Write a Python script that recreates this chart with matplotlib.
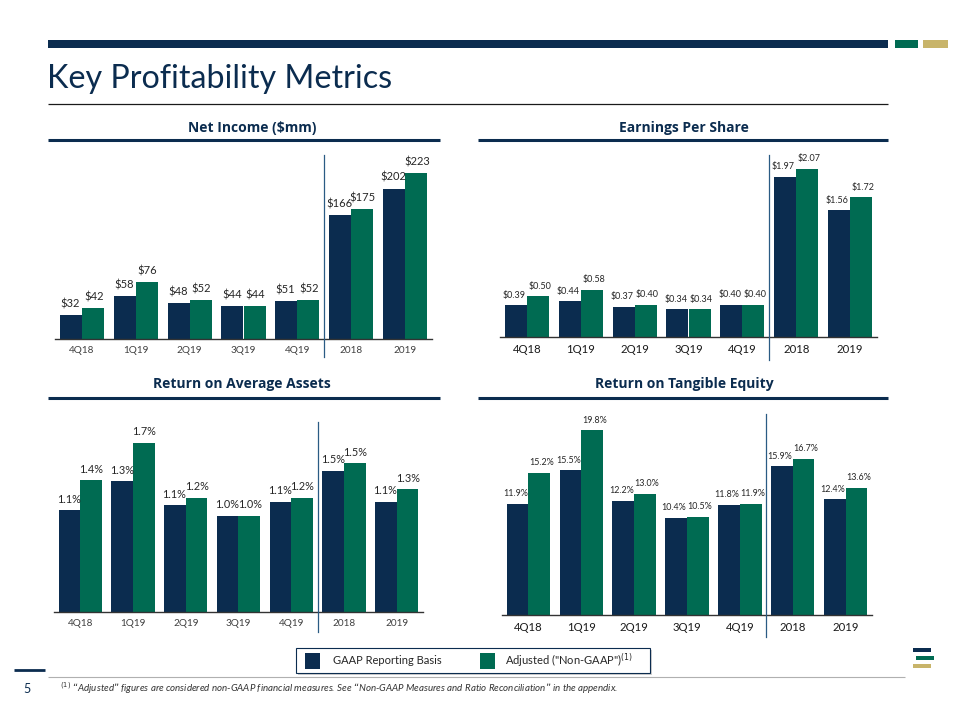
import matplotlib
matplotlib.use("Agg")
import matplotlib.pyplot as plt
from matplotlib.lines import Line2D
from matplotlib.patches import Rectangle
import numpy as np

# ---------------- data ----------------
categories = ["4Q18", "1Q19", "2Q19", "3Q19", "4Q19", "2018", "2019"]

ni_gaap = [32, 58, 48, 44, 51, 166, 202]
ni_adj = [42, 76, 52, 44, 52, 175, 223]

eps_gaap = [0.39, 0.44, 0.37, 0.34, 0.40, 1.97, 1.56]
eps_adj = [0.50, 0.58, 0.40, 0.34, 0.40, 2.07, 1.72]

# bar heights as drawn (%), labels as printed
roaa_gaap = [1.06, 1.36, 1.11, 1.00, 1.15, 1.47, 1.15]
roaa_adj = [1.37, 1.76, 1.19, 1.00, 1.19, 1.55, 1.28]
roaa_gaap_lbl = ["1.1%", "1.3%", "1.1%", "1.0%", "1.1%", "1.5%", "1.1%"]
roaa_adj_lbl = ["1.4%", "1.7%", "1.2%", "1.0%", "1.2%", "1.5%", "1.3%"]

rote_gaap = [11.9, 15.5, 12.2, 10.4, 11.8, 15.9, 12.4]
rote_adj = [15.2, 19.8, 13.0, 10.5, 11.9, 16.7, 13.6]

NAVY = "#0b2c4f"
GREEN = "#006b52"
GOLD = "#c8b46a"
TXT = "#262626"
LATO = ["Lato", "DejaVu Sans"]
OPEN = ["Open Sans", "DejaVu Sans"]

W, H = 960, 720
fig = plt.figure(figsize=(9.6, 7.2), dpi=100)
plt.rcParams["font.family"] = OPEN


def fx(x):
    return x / W


def fy(y):
    return 1 - y / H


def hline(x0, x1, y, color, lw):
    fig.add_artist(Line2D([fx(x0), fx(x1)], [fy(y), fy(y)], color=color, lw=lw,
                          transform=fig.transFigure, solid_capstyle="butt"))


def rect(x0, y0, x1, y1, color, **kw):
    fig.add_artist(Rectangle((fx(x0), fy(y1)), fx(x1) - fx(x0), fy(y0) - fy(y1),
                             transform=fig.transFigure, facecolor=color,
                             edgecolor="none", **kw))


# ---------------- header ----------------
rect(48, 40, 888, 48, NAVY)
rect(895, 40, 918, 48, GREEN)
rect(923, 40, 948, 48, GOLD)
fig.text(fx(47), fy(88), "Key Profitability Metrics", fontsize=23.2, color=NAVY,
         family=LATO, va="baseline", ha="left")
hline(48, 888, 103.5, "#1a1a1a", 0.9)

# panel titles
titles = [("Net Income ($mm)", 252, 128, 48, 440, 140),
          ("Earnings Per Share", 684, 128, 478, 888, 140),
          ("Return on Average Assets", 242, 384, 48, 440, 398),
          ("Return on Tangible Equity", 684, 384, 478, 888, 398)]
for t, cx, cy, x0, x1, ly in titles:
    fig.text(fx(cx), fy(cy), t, fontsize=10, fontweight="bold", color=NAVY,
             ha="center", va="center")
    hline(x0, x1, ly, NAVY, 2.2)


# ---------------- charts ----------------
def panel(left, right, base, top, ymax, g, a, glbl, albl, lbl_fs, tick_fs,
          tick_color, sep_bottom, sep_top, fam, nudge=0.0):
    ax = fig.add_axes([fx(left), fy(base), fx(right) - fx(left), fy(top) - fy(base)])
    x = np.arange(len(categories))
    bw = 0.41
    ax.bar(x - bw / 2, g, bw, color=NAVY, zorder=2)
    ax.bar(x + bw / 2, a, bw, color=GREEN, zorder=2)
    ax.set_xlim(-0.5, 6.5)
    ax.set_ylim(0, ymax)
    for i in range(len(categories)):
        ax.annotate(glbl[i], (x[i] - bw / 2, g[i]), xytext=(-nudge, 4),
                    textcoords="offset points", ha="center", va="bottom",
                    fontsize=lbl_fs, color=TXT, family=fam)
        ax.annotate(albl[i], (x[i] + bw / 2, a[i]), xytext=(nudge, 4),
                    textcoords="offset points", ha="center", va="bottom",
                    fontsize=lbl_fs, color=TXT, family=fam)
    for s in ["top", "right", "left"]:
        ax.spines[s].set_visible(False)
    ax.spines["bottom"].set_color("#333333")
    ax.spines["bottom"].set_linewidth(1.0)
    ax.set_yticks([])
    ax.set_xticks(x)
    ax.set_xticklabels(categories, fontsize=tick_fs, color=tick_color, family=fam)
    ax.tick_params(axis="x", length=0, pad=5)
    ax.patch.set_alpha(0)
    hpx = base - top
    ax.plot([4.5, 4.5], [(base - sep_bottom) / hpx, (base - sep_top) / hpx],
            transform=ax.get_xaxis_transform(), color="#2a5b84", lw=0.9,
            clip_on=False, zorder=3)
    return ax


panel(55, 432, 339, 155, (339 - 155) / 0.745, ni_gaap, ni_adj,
      [f"${v}" for v in ni_gaap], [f"${v}" for v in ni_adj],
      8.0, 7.2, "#404040", 357, 155, LATO, nudge=0.5)

panel(500, 877, 337, 155, (337 - 155) / 81.2, eps_gaap, eps_adj,
      [f"${v:.2f}" for v in eps_gaap], [f"${v:.2f}" for v in eps_adj],
      6.5, 8.2, "#1a1a1a", 360, 155, LATO, nudge=1.2)

panel(54, 423, 612, 422, (612 - 422) / 96.0, roaa_gaap, roaa_adj,
      roaa_gaap_lbl, roaa_adj_lbl, 7.8, 7.2, "#404040", 632, 422, LATO, nudge=0.3)

panel(502, 872, 615, 414, (615 - 414) / 9.34, rote_gaap, rote_adj,
      [f"{v:.1f}%" for v in rote_gaap], [f"{v:.1f}%" for v in rote_adj],
      6.4, 8.2, "#1a1a1a", 637, 414, LATO, nudge=1.5)

# ---------------- legend ----------------
rect(298, 650, 652, 675, "#d0d0d0")  # shadow
fig.add_artist(Rectangle((fx(296), fy(673)), fx(650) - fx(296), fy(648) - fy(673),
                         transform=fig.transFigure, facecolor="white",
                         edgecolor=NAVY, lw=0.8))
rect(305, 653, 320, 669, NAVY)
fig.text(fx(333), fy(661), "GAAP Reporting Basis", fontsize=8, color=TXT,
         va="center", ha="left", family=LATO)
rect(480, 653, 495, 669, GREEN)
fig.text(fx(505), fy(661), 'Adjusted ("Non-GAAP")$^{(1)}$', fontsize=8,
         color=TXT, va="center", ha="left", family=LATO)

# ---------------- footer ----------------
hline(48, 905, 677, "#b0b0b0", 0.8)
hline(14, 45, 670, NAVY, 2.0)
fig.text(fx(27), fy(689), "5", fontsize=9, color=NAVY, ha="center", va="center",
         family=LATO)
fig.text(fx(60), fy(688),
         "$^{(1)}$ \u201cAdjusted\u201d figures are considered non-GAAP financial measures. "
         "See \u201cNon-GAAP Measures and Ratio Reconciliation\u201d in the appendix.",
         fontsize=7.0, style="italic", color="#333333", ha="left", va="center",
         family=LATO)

# logo bottom right
rect(913, 648, 931, 652, NAVY)
rect(916, 656, 934, 660, GREEN)
rect(913, 664, 931, 668, GOLD)

fig.savefig("out.png", dpi=100, facecolor="white")
